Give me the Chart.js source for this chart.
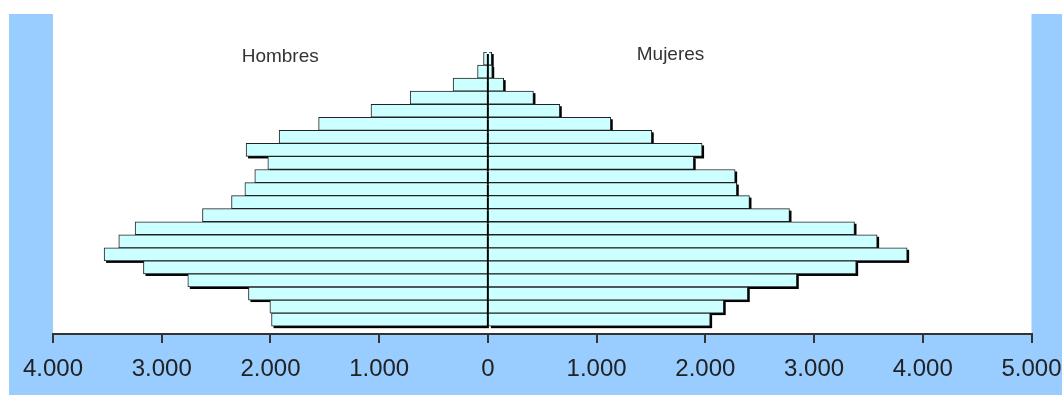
<!DOCTYPE html>
<html>
<head>
<meta charset="utf-8">
<script src="https://cdn.jsdelivr.net/npm/chart.js@4/dist/chart.umd.min.js"></script>
<style>
    body { margin: 0; background: #fff; }
    #wrap { width: 1062px; height: 395px; }
</style>
</head>
<body>
<div id="wrap"><canvas id="pyramid" width="1062" height="395"></canvas></div>
<script>
// age groups, top (oldest) to bottom (youngest)
const ageGroups = ['100+', '95-99', '90-94', '85-89', '80-84', '75-79', '70-74', '65-69', '60-64', '55-59',
    '50-54', '45-49', '40-44', '35-39', '30-34', '25-29', '20-24', '15-19', '10-14', '5-9', '0-4'];
const hombres = [40, 95, 320, 715, 1075, 1557, 1920, 2224, 2024, 2144, 2235, 2358, 2625, 3245, 3395, 3530,
    3168, 2760, 2202, 2005, 1990];
const mujeres = [35, 40, 145, 419, 661, 1130, 1507, 1970, 1893, 2274, 2289, 2406, 2774, 3372, 3580, 3856,
    3387, 2841, 2390, 2169, 2044];
const seriesNames = ['Hombres', 'Mujeres'];
const xTicks = [-4000, -3000, -2000, -1000, 0, 1000, 2000, 3000, 4000, 5000];

function fmtThousands(v) {
    const s = String(Math.abs(v));
    return s.replace(/\B(?=(\d{3})+(?!\d))/g, '.');
}

// blue frame + white plot area
const background = {
    id: 'background',
    beforeDraw(chart) {
        const {ctx, width, height, chartArea} = chart;
        ctx.save();
        ctx.fillStyle = '#ffffff';
        ctx.fillRect(0, 0, width, height);
        ctx.fillStyle = '#99ccff';
        ctx.fillRect(9, 14, width - 9, height - 14);
        ctx.fillStyle = '#ffffff';
        ctx.fillRect(chartArea.left, 0, chartArea.right - chartArea.left, chartArea.bottom);
        ctx.restore();
    }
};

// hard drop shadow under every bar
const barShadow = {
    id: 'barShadow',
    beforeDatasetsDraw(chart) {
        const ctx = chart.ctx;
        ctx.save();
        ctx.fillStyle = '#000000';
        chart.data.datasets.forEach((ds, i) => {
            chart.getDatasetMeta(i).data.forEach(bar => {
                const p = bar.getProps(['x', 'y', 'base', 'height'], true);
                ctx.fillRect(Math.min(p.x, p.base) + 2, p.y - p.height / 2 + 2, Math.abs(p.x - p.base), p.height);
            });
        });
        ctx.restore();
    }
};

// "Hombres" / "Mujeres" captions
const captions = {
    id: 'captions',
    afterDatasetsDraw(chart) {
        const {ctx, chartArea, scales} = chart;
        ctx.save();
        ctx.font = '19px "Liberation Sans", Arial, sans-serif';
        ctx.fillStyle = '#333333';
        ctx.textAlign = 'center';
        ctx.textBaseline = 'middle';
        ctx.fillText(seriesNames[0], scales.x.getPixelForValue(-1910), chartArea.top + 5);
        ctx.fillText(seriesNames[1], scales.x.getPixelForValue(1680), chartArea.top + 3);
        ctx.restore();
    }
};

const barStyle = {
    grouped: false,
    categoryPercentage: 1,
    barPercentage: 1,
    backgroundColor: '#ccffff',
    borderColor: '#222222',
    borderWidth: 1,
};

new Chart(document.getElementById('pyramid'), {
    type: 'bar',
    data: {
        datasets: [{
            label: seriesNames[0],
            data: hombres.map((v, i) => ({x: -v, y: i})),
            ...barStyle
        }, {
            label: seriesNames[1],
            data: mujeres.map((v, i) => ({x: v, y: i})),
            ...barStyle
        }]
    },
    options: {
        indexAxis: 'y',
        responsive: false,
        animation: false,
        layout: {padding: {left: 53, right: 30.5, top: 52, bottom: 0}},
        plugins: {
            legend: {display: false},
            tooltip: {enabled: false},
        },
        scales: {
            y: {
                type: 'linear',
                reverse: true,
                offset: false,
                min: -0.5,
                max: ageGroups.length - 0.5 + 0.6,
                display: false,
                afterBuildTicks: s => { s.ticks = ageGroups.map((a, i) => ({value: i})); },
            },
            x: {
                type: 'linear',
                min: xTicks[0],
                max: xTicks[xTicks.length - 1],
                afterBuildTicks: s => { s.ticks = xTicks.map(v => ({value: v})); },
                afterFit: s => {
                    s.height = 61;
                    s.paddingLeft = 0;
                    s.paddingRight = 0;
                },
                grid: {
                    drawOnChartArea: false,
                    drawTicks: true,
                    tickLength: 9,
                    color: '#333333',
                    lineWidth: 2,
                },
                border: {color: '#333333', width: 2},
                ticks: {
                    padding: 12,
                    color: '#222222',
                    font: {family: '"Liberation Sans", Arial, sans-serif', size: 24},
                    callback: v => fmtThousands(v),
                    maxRotation: 0,
                    autoSkip: false,
                }
            }
        }
    },
    plugins: [background, barShadow, captions]
});
</script>
</body>
</html>
